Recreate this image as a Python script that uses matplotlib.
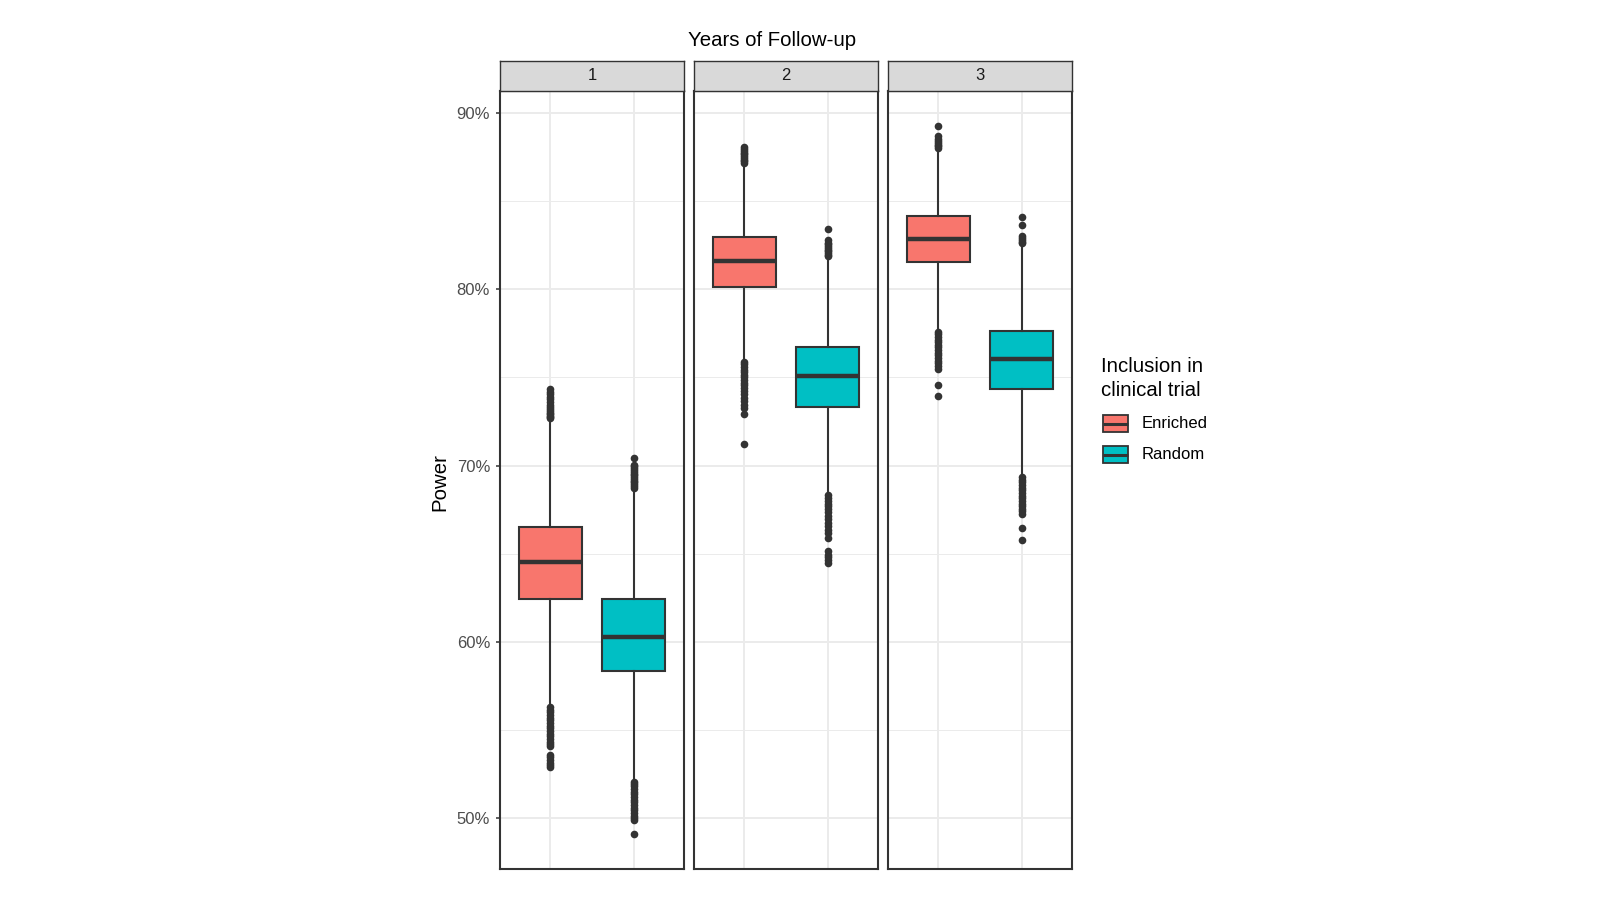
import matplotlib
matplotlib.use("Agg")
import matplotlib.pyplot as plt
from matplotlib.patches import Rectangle
from matplotlib.lines import Line2D
import numpy as np

plt.rcParams['font.family'] = ['Liberation Sans', 'DejaVu Sans']

# ---------------- data (percent) ----------------
years = ["1", "2", "3"]
groups = ["Enriched", "Random"]
colors = ["#F8766D", "#00BFC4"]

# per year: [Enriched, Random]
q1 = [[62.43, 58.33], [80.15, 73.32], [81.52, 74.32]]
median = [[64.51, 60.27], [81.63, 75.09], [82.84, 76.04]]
q3 = [[66.50, 62.43], [82.96, 76.74], [84.17, 77.65]]
whisker_low = [[56.40, 52.14], [75.98, 68.20], [77.69, 69.45]]
whisker_high = [[72.60, 68.70], [87.08, 81.76], [87.92, 82.50]]

outliers_y1_enriched = [72.68, 72.75, 72.82, 72.90, 73.00, 73.10, 73.20, 73.30, 73.45,
                        73.60, 73.75, 73.90, 74.05, 74.20, 74.35,
                        56.30, 56.15, 56.00, 55.85, 55.70, 55.55, 55.40, 55.25, 55.10,
                        54.95, 54.80, 54.65, 54.50, 54.35, 54.20, 54.10,
                        53.60, 53.45, 53.30, 53.15, 53.00, 52.90]
outliers_y1_random = [68.75, 68.85, 68.95, 69.05, 69.15, 69.25, 69.35, 69.45, 69.55,
                      69.65, 69.75, 69.85, 69.95, 70.06, 70.44,
                      52.08, 51.95, 51.80, 51.65, 51.50, 51.35, 51.20, 51.05, 50.90,
                      50.75, 50.60, 50.45, 50.30, 50.15, 50.00, 49.90, 49.11]
outliers_y2_enriched = [87.15, 87.25, 87.35, 87.45, 87.55, 87.65, 87.75, 87.85, 87.95, 88.08,
                        75.90, 75.75, 75.60, 75.45, 75.30, 75.15, 75.00, 74.85, 74.70,
                        74.55, 74.40, 74.25, 74.05, 73.85, 73.65, 73.45, 73.25, 72.94,
                        71.23]
outliers_y2_random = [81.86, 81.95, 82.05, 82.15, 82.25, 82.35, 82.45, 82.55, 82.65, 82.80,
                      83.42,
                      68.32, 68.15, 68.00, 67.85, 67.70, 67.55, 67.35, 67.15, 66.95,
                      66.75, 66.55, 66.35, 66.15, 65.91,
                      65.13, 64.95, 64.80, 64.65, 64.46]
outliers_y3_enriched = [88.00, 88.10, 88.20, 88.30, 88.40, 88.50, 88.67, 89.24,
                        77.60, 77.45, 77.30, 77.15, 77.00, 76.85, 76.70, 76.55, 76.40,
                        76.25, 76.10, 75.95, 75.80, 75.65, 75.50, 74.55, 73.96]
outliers_y3_random = [82.60, 82.70, 82.80, 82.90, 83.00, 83.66, 84.09,
                      69.36, 69.20, 69.05, 68.90, 68.75, 68.60, 68.45, 68.30, 68.15,
                      68.00, 67.85, 67.70, 67.55, 67.40, 67.27, 66.48, 65.77]
outliers = [[outliers_y1_enriched, outliers_y1_random],
            [outliers_y2_enriched, outliers_y2_random],
            [outliers_y3_enriched, outliers_y3_random]]

y_ticks = [50, 60, 70, 80, 90]
y_minor = [55, 65, 75, 85]

# ---------------- layout helpers ----------------
W, H = 1600, 900
fig = plt.figure(figsize=(16, 9), dpi=100)
fig.patch.set_facecolor("white")

def fx(px):
    return px / W

def fy(py):
    return 1 - py / H

panel_lefts = [500, 694, 888]
panel_w = 184
panel_top, panel_bot = 91, 869.3
strip_top = 61

dark = "#333333"
grid_col = "#EBEBEB"
lw_border = 1.5
small_fs = 12
big_fs = 14.7

# y-range with 5% expansion like ggplot
all_vals = []
for i in range(3):
    for j in range(2):
        all_vals += outliers[i][j] + [whisker_low[i][j], whisker_high[i][j]]
ymin, ymax = min(all_vals), max(all_vals)
pad = 0.05 * (ymax - ymin)
ylim = (ymin - pad, ymax + pad)

for i, yr in enumerate(years):
    l = panel_lefts[i]
    ax = fig.add_axes([fx(l), fy(panel_bot), panel_w / W, (panel_bot - panel_top) / H])
    ax.set_facecolor("white")
    stats = []
    for j in range(2):
        stats.append(dict(med=median[i][j], q1=q1[i][j], q3=q3[i][j],
                          whislo=whisker_low[i][j], whishi=whisker_high[i][j],
                          fliers=outliers[i][j], label=groups[j]))
    bp = ax.bxp(stats, positions=[1, 2], widths=0.75, patch_artist=True,
                showcaps=False,
                boxprops=dict(edgecolor=dark, linewidth=1.5),
                medianprops=dict(color=dark, linewidth=3.2, solid_capstyle='butt'),
                whiskerprops=dict(color=dark, linewidth=1.5),
                flierprops=dict(marker='o', markerfacecolor=dark, markeredgecolor=dark,
                                markersize=5.5, markeredgewidth=0, linestyle='none'),
                zorder=3)
    for j, patch in enumerate(bp['boxes']):
        patch.set_facecolor(colors[j])
    ax.set_xlim(0.4, 2.6)
    ax.set_ylim(*ylim)
    ax.set_xticks([1, 2])
    ax.set_xticklabels([])
    ax.tick_params(axis='x', length=0)
    ax.set_yticks(y_ticks)
    ax.set_yticks(y_minor, minor=True)
    ax.set_axisbelow(True)
    ax.grid(True, which='major', color=grid_col, linewidth=1.4)
    ax.grid(True, which='minor', axis='y', color=grid_col, linewidth=0.7)
    ax.tick_params(axis='y', which='minor', length=0)
    if i == 0:
        ax.set_yticklabels([f"{t}%" for t in y_ticks])
        ax.tick_params(axis='y', which='major', length=3.2, width=1.1, color=dark,
                       labelsize=small_fs, labelcolor="#4D4D4D", pad=4.0)
    else:
        ax.set_yticklabels([])
        ax.tick_params(axis='y', which='major', length=0)
    for s in ax.spines.values():
        s.set_color(dark)
        s.set_linewidth(lw_border)
        s.set_zorder(5)

    # strip
    sax = fig.add_axes([fx(l), fy(panel_top), panel_w / W, (panel_top - strip_top) / H])
    sax.set_facecolor("#D9D9D9")
    sax.set_xticks([])
    sax.set_yticks([])
    for s in sax.spines.values():
        s.set_color(dark)
        s.set_linewidth(1.0)
    sax.text(0.5, 0.5, yr, ha='center', va='center', fontsize=small_fs, color="#1A1A1A",
             transform=sax.transAxes)

# titles
fig.text(fx(772), fy(40), "Years of Follow-up", ha='center', va='center', fontsize=big_fs,
         color="black")
fig.text(fx(440), fy(482), "Power", ha='center', va='center', rotation=90, fontsize=big_fs,
         color="black")

# legend (manual, ggplot style)
fig.text(fx(1101), fy(357), "Inclusion in\nclinical trial", ha='left', va='top',
         fontsize=big_fs, color="black", linespacing=1.32)
key_x0, key_x1 = 1103, 1128
key_rows = [(415, 432), (446, 463)]
for j, (t, b) in enumerate(key_rows):
    rect = Rectangle((fx(key_x0), fy(b)), (key_x1 - key_x0) / W, (b - t) / H,
                     transform=fig.transFigure, facecolor=colors[j], edgecolor=dark,
                     linewidth=1.3)
    fig.add_artist(rect)
    ym = fy((t + b) / 2)
    fig.add_artist(Line2D([fx(key_x0), fx(key_x1)], [ym, ym], transform=fig.transFigure,
                          color=dark, linewidth=2.2, solid_capstyle='butt'))
    fig.text(fx(1142), fy((t + b) / 2), groups[j], ha='left', va='center',
             fontsize=small_fs, color="black")

fig.savefig("out.png", dpi=100, facecolor="white")
